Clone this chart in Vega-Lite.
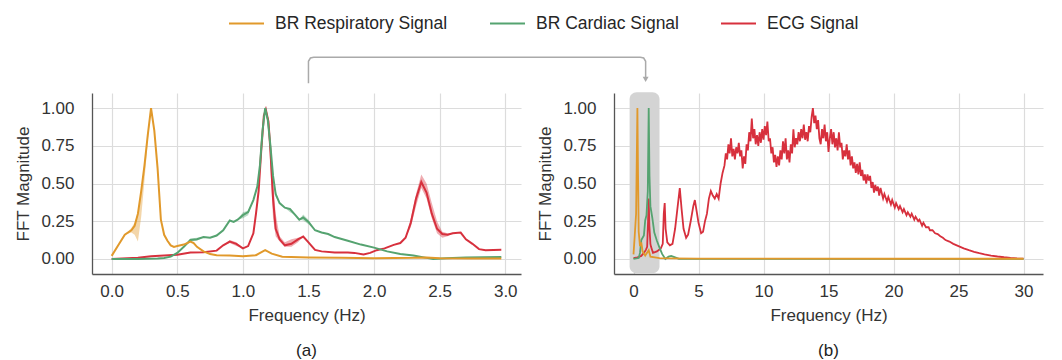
{
  "$schema": "https://vega.github.io/schema/vega-lite/v6.json",
  "padding": {"left": 14, "top": 5, "right": 5, "bottom": 5},
  "bounds": "flush",
  "spacing": 93,
  "config": {
    "view": {"stroke": null},
    "font": "Liberation Sans",
    "axis": {
      "labelFont": "Liberation Sans", "titleFont": "Liberation Sans",
      "titleFontWeight": "normal",
      "labelColor": "#333333", "titleColor": "#333333",
      "gridColor": "#dcdcdc", "gridWidth": 1.2,
      "domainColor": "#555555", "domainWidth": 1.3,
      "ticks": false
    },
    "axisX": {"labelPadding": 9, "titlePadding": 8},
    "axisY": {"labelPadding": 18, "titlePadding": 8},
    "title": {"font": "Liberation Sans", "fontWeight": "normal", "color": "#222222", "orient": "bottom", "offset": 20, "frame": "group", "anchor": "middle"}
  },
  "datasets": {
    "left": [
      {"signal": "ECG Signal", "f": 0.0, "v": 0.0, "lo": 0.0, "hi": 0.0},
      {"signal": "ECG Signal", "f": 0.2, "v": 0.008, "lo": 0.008, "hi": 0.008},
      {"signal": "ECG Signal", "f": 0.3, "v": 0.018, "lo": 0.018, "hi": 0.018},
      {"signal": "ECG Signal", "f": 0.4, "v": 0.022, "lo": 0.022, "hi": 0.022},
      {"signal": "ECG Signal", "f": 0.5, "v": 0.027, "lo": 0.027, "hi": 0.027},
      {"signal": "ECG Signal", "f": 0.6, "v": 0.042, "lo": 0.042, "hi": 0.042},
      {"signal": "ECG Signal", "f": 0.7, "v": 0.045, "lo": 0.045, "hi": 0.045},
      {"signal": "ECG Signal", "f": 0.8, "v": 0.055, "lo": 0.055, "hi": 0.055},
      {"signal": "ECG Signal", "f": 0.85, "v": 0.09, "lo": 0.09, "hi": 0.09},
      {"signal": "ECG Signal", "f": 0.9, "v": 0.115, "lo": 0.105, "hi": 0.125},
      {"signal": "ECG Signal", "f": 0.95, "v": 0.1, "lo": 0.085, "hi": 0.11},
      {"signal": "ECG Signal", "f": 1.0, "v": 0.07, "lo": 0.07, "hi": 0.07},
      {"signal": "ECG Signal", "f": 1.04, "v": 0.085, "lo": 0.085, "hi": 0.085},
      {"signal": "ECG Signal", "f": 1.08, "v": 0.17, "lo": 0.17, "hi": 0.17},
      {"signal": "ECG Signal", "f": 1.1, "v": 0.3, "lo": 0.3, "hi": 0.3},
      {"signal": "ECG Signal", "f": 1.12, "v": 0.45, "lo": 0.45, "hi": 0.45},
      {"signal": "ECG Signal", "f": 1.14, "v": 0.72, "lo": 0.72, "hi": 0.72},
      {"signal": "ECG Signal", "f": 1.16, "v": 0.95, "lo": 0.95, "hi": 0.95},
      {"signal": "ECG Signal", "f": 1.175, "v": 0.99, "lo": 0.97, "hi": 1.0},
      {"signal": "ECG Signal", "f": 1.195, "v": 0.91, "lo": 0.87, "hi": 0.93},
      {"signal": "ECG Signal", "f": 1.21, "v": 0.72, "lo": 0.6, "hi": 0.78},
      {"signal": "ECG Signal", "f": 1.23, "v": 0.4, "lo": 0.27, "hi": 0.52},
      {"signal": "ECG Signal", "f": 1.25, "v": 0.2, "lo": 0.15, "hi": 0.3},
      {"signal": "ECG Signal", "f": 1.28, "v": 0.13, "lo": 0.115, "hi": 0.15},
      {"signal": "ECG Signal", "f": 1.32, "v": 0.09, "lo": 0.08, "hi": 0.11},
      {"signal": "ECG Signal", "f": 1.37, "v": 0.1, "lo": 0.08, "hi": 0.13},
      {"signal": "ECG Signal", "f": 1.42, "v": 0.13, "lo": 0.11, "hi": 0.14},
      {"signal": "ECG Signal", "f": 1.46, "v": 0.148, "lo": 0.148, "hi": 0.148},
      {"signal": "ECG Signal", "f": 1.5, "v": 0.11, "lo": 0.11, "hi": 0.11},
      {"signal": "ECG Signal", "f": 1.55, "v": 0.06, "lo": 0.06, "hi": 0.06},
      {"signal": "ECG Signal", "f": 1.6, "v": 0.05, "lo": 0.05, "hi": 0.05},
      {"signal": "ECG Signal", "f": 1.7, "v": 0.042, "lo": 0.042, "hi": 0.042},
      {"signal": "ECG Signal", "f": 1.8, "v": 0.042, "lo": 0.042, "hi": 0.042},
      {"signal": "ECG Signal", "f": 1.85, "v": 0.04, "lo": 0.04, "hi": 0.04},
      {"signal": "ECG Signal", "f": 1.92, "v": 0.03, "lo": 0.03, "hi": 0.03},
      {"signal": "ECG Signal", "f": 1.97, "v": 0.04, "lo": 0.04, "hi": 0.04},
      {"signal": "ECG Signal", "f": 2.02, "v": 0.058, "lo": 0.058, "hi": 0.058},
      {"signal": "ECG Signal", "f": 2.08, "v": 0.07, "lo": 0.07, "hi": 0.07},
      {"signal": "ECG Signal", "f": 2.15, "v": 0.093, "lo": 0.093, "hi": 0.093},
      {"signal": "ECG Signal", "f": 2.2, "v": 0.105, "lo": 0.105, "hi": 0.105},
      {"signal": "ECG Signal", "f": 2.24, "v": 0.14, "lo": 0.14, "hi": 0.14},
      {"signal": "ECG Signal", "f": 2.28, "v": 0.24, "lo": 0.21, "hi": 0.27},
      {"signal": "ECG Signal", "f": 2.32, "v": 0.4, "lo": 0.35, "hi": 0.43},
      {"signal": "ECG Signal", "f": 2.36, "v": 0.51, "lo": 0.47, "hi": 0.56},
      {"signal": "ECG Signal", "f": 2.4, "v": 0.44, "lo": 0.4, "hi": 0.5},
      {"signal": "ECG Signal", "f": 2.44, "v": 0.3, "lo": 0.27, "hi": 0.37},
      {"signal": "ECG Signal", "f": 2.48, "v": 0.2, "lo": 0.17, "hi": 0.25},
      {"signal": "ECG Signal", "f": 2.52, "v": 0.165, "lo": 0.14, "hi": 0.18},
      {"signal": "ECG Signal", "f": 2.56, "v": 0.16, "lo": 0.15, "hi": 0.17},
      {"signal": "ECG Signal", "f": 2.6, "v": 0.17, "lo": 0.17, "hi": 0.17},
      {"signal": "ECG Signal", "f": 2.66, "v": 0.175, "lo": 0.175, "hi": 0.175},
      {"signal": "ECG Signal", "f": 2.7, "v": 0.13, "lo": 0.13, "hi": 0.13},
      {"signal": "ECG Signal", "f": 2.75, "v": 0.1, "lo": 0.1, "hi": 0.1},
      {"signal": "ECG Signal", "f": 2.8, "v": 0.065, "lo": 0.065, "hi": 0.065},
      {"signal": "ECG Signal", "f": 2.85, "v": 0.058, "lo": 0.058, "hi": 0.058},
      {"signal": "ECG Signal", "f": 2.97, "v": 0.06, "lo": 0.06, "hi": 0.06},

      {"signal": "BR Cardiac Signal", "f": 0.0, "v": 0.0, "lo": 0.0, "hi": 0.0},
      {"signal": "BR Cardiac Signal", "f": 0.2, "v": 0.0, "lo": 0.0, "hi": 0.0},
      {"signal": "BR Cardiac Signal", "f": 0.35, "v": 0.003, "lo": 0.003, "hi": 0.003},
      {"signal": "BR Cardiac Signal", "f": 0.4, "v": 0.006, "lo": 0.006, "hi": 0.006},
      {"signal": "BR Cardiac Signal", "f": 0.45, "v": 0.015, "lo": 0.015, "hi": 0.015},
      {"signal": "BR Cardiac Signal", "f": 0.5, "v": 0.04, "lo": 0.04, "hi": 0.04},
      {"signal": "BR Cardiac Signal", "f": 0.55, "v": 0.08, "lo": 0.08, "hi": 0.08},
      {"signal": "BR Cardiac Signal", "f": 0.6, "v": 0.125, "lo": 0.115, "hi": 0.135},
      {"signal": "BR Cardiac Signal", "f": 0.65, "v": 0.13, "lo": 0.12, "hi": 0.14},
      {"signal": "BR Cardiac Signal", "f": 0.7, "v": 0.145, "lo": 0.145, "hi": 0.145},
      {"signal": "BR Cardiac Signal", "f": 0.75, "v": 0.14, "lo": 0.14, "hi": 0.14},
      {"signal": "BR Cardiac Signal", "f": 0.8, "v": 0.155, "lo": 0.155, "hi": 0.155},
      {"signal": "BR Cardiac Signal", "f": 0.85, "v": 0.19, "lo": 0.19, "hi": 0.19},
      {"signal": "BR Cardiac Signal", "f": 0.9, "v": 0.255, "lo": 0.255, "hi": 0.255},
      {"signal": "BR Cardiac Signal", "f": 0.93, "v": 0.245, "lo": 0.245, "hi": 0.245},
      {"signal": "BR Cardiac Signal", "f": 0.96, "v": 0.26, "lo": 0.26, "hi": 0.26},
      {"signal": "BR Cardiac Signal", "f": 1.0, "v": 0.29, "lo": 0.27, "hi": 0.31},
      {"signal": "BR Cardiac Signal", "f": 1.04, "v": 0.31, "lo": 0.29, "hi": 0.32},
      {"signal": "BR Cardiac Signal", "f": 1.08, "v": 0.39, "lo": 0.39, "hi": 0.39},
      {"signal": "BR Cardiac Signal", "f": 1.11, "v": 0.48, "lo": 0.48, "hi": 0.48},
      {"signal": "BR Cardiac Signal", "f": 1.13, "v": 0.62, "lo": 0.62, "hi": 0.62},
      {"signal": "BR Cardiac Signal", "f": 1.15, "v": 0.85, "lo": 0.85, "hi": 0.85},
      {"signal": "BR Cardiac Signal", "f": 1.17, "v": 1.0, "lo": 1.0, "hi": 1.0},
      {"signal": "BR Cardiac Signal", "f": 1.19, "v": 0.92, "lo": 0.92, "hi": 0.92},
      {"signal": "BR Cardiac Signal", "f": 1.21, "v": 0.75, "lo": 0.75, "hi": 0.75},
      {"signal": "BR Cardiac Signal", "f": 1.23, "v": 0.55, "lo": 0.55, "hi": 0.55},
      {"signal": "BR Cardiac Signal", "f": 1.25, "v": 0.43, "lo": 0.41, "hi": 0.45},
      {"signal": "BR Cardiac Signal", "f": 1.28, "v": 0.37, "lo": 0.37, "hi": 0.37},
      {"signal": "BR Cardiac Signal", "f": 1.32, "v": 0.34, "lo": 0.34, "hi": 0.34},
      {"signal": "BR Cardiac Signal", "f": 1.36, "v": 0.33, "lo": 0.31, "hi": 0.34},
      {"signal": "BR Cardiac Signal", "f": 1.4, "v": 0.29, "lo": 0.29, "hi": 0.29},
      {"signal": "BR Cardiac Signal", "f": 1.43, "v": 0.26, "lo": 0.26, "hi": 0.26},
      {"signal": "BR Cardiac Signal", "f": 1.46, "v": 0.275, "lo": 0.255, "hi": 0.295},
      {"signal": "BR Cardiac Signal", "f": 1.5, "v": 0.245, "lo": 0.23, "hi": 0.26},
      {"signal": "BR Cardiac Signal", "f": 1.55, "v": 0.19, "lo": 0.19, "hi": 0.19},
      {"signal": "BR Cardiac Signal", "f": 1.6, "v": 0.175, "lo": 0.175, "hi": 0.175},
      {"signal": "BR Cardiac Signal", "f": 1.65, "v": 0.165, "lo": 0.165, "hi": 0.165},
      {"signal": "BR Cardiac Signal", "f": 1.7, "v": 0.145, "lo": 0.145, "hi": 0.145},
      {"signal": "BR Cardiac Signal", "f": 1.8, "v": 0.12, "lo": 0.12, "hi": 0.12},
      {"signal": "BR Cardiac Signal", "f": 1.9, "v": 0.095, "lo": 0.095, "hi": 0.095},
      {"signal": "BR Cardiac Signal", "f": 2.0, "v": 0.075, "lo": 0.075, "hi": 0.075},
      {"signal": "BR Cardiac Signal", "f": 2.1, "v": 0.05, "lo": 0.05, "hi": 0.05},
      {"signal": "BR Cardiac Signal", "f": 2.2, "v": 0.033, "lo": 0.033, "hi": 0.033},
      {"signal": "BR Cardiac Signal", "f": 2.3, "v": 0.022, "lo": 0.022, "hi": 0.022},
      {"signal": "BR Cardiac Signal", "f": 2.4, "v": 0.007, "lo": 0.007, "hi": 0.007},
      {"signal": "BR Cardiac Signal", "f": 2.45, "v": 0.0, "lo": 0.0, "hi": 0.0},
      {"signal": "BR Cardiac Signal", "f": 2.55, "v": 0.005, "lo": 0.005, "hi": 0.005},
      {"signal": "BR Cardiac Signal", "f": 2.7, "v": 0.01, "lo": 0.01, "hi": 0.01},
      {"signal": "BR Cardiac Signal", "f": 2.97, "v": 0.012, "lo": 0.012, "hi": 0.012},

      {"signal": "BR Respiratory Signal", "f": 0.0, "v": 0.02, "lo": 0.02, "hi": 0.02},
      {"signal": "BR Respiratory Signal", "f": 0.05, "v": 0.09, "lo": 0.09, "hi": 0.09},
      {"signal": "BR Respiratory Signal", "f": 0.1, "v": 0.16, "lo": 0.16, "hi": 0.16},
      {"signal": "BR Respiratory Signal", "f": 0.15, "v": 0.19, "lo": 0.175, "hi": 0.205},
      {"signal": "BR Respiratory Signal", "f": 0.175, "v": 0.22, "lo": 0.16, "hi": 0.24},
      {"signal": "BR Respiratory Signal", "f": 0.2, "v": 0.3, "lo": 0.115, "hi": 0.31},
      {"signal": "BR Respiratory Signal", "f": 0.225, "v": 0.45, "lo": 0.28, "hi": 0.46},
      {"signal": "BR Respiratory Signal", "f": 0.25, "v": 0.62, "lo": 0.52, "hi": 0.63},
      {"signal": "BR Respiratory Signal", "f": 0.275, "v": 0.82, "lo": 0.78, "hi": 0.83},
      {"signal": "BR Respiratory Signal", "f": 0.3, "v": 1.0, "lo": 1.0, "hi": 1.0},
      {"signal": "BR Respiratory Signal", "f": 0.325, "v": 0.85, "lo": 0.85, "hi": 0.85},
      {"signal": "BR Respiratory Signal", "f": 0.35, "v": 0.6, "lo": 0.6, "hi": 0.6},
      {"signal": "BR Respiratory Signal", "f": 0.375, "v": 0.26, "lo": 0.26, "hi": 0.26},
      {"signal": "BR Respiratory Signal", "f": 0.4, "v": 0.16, "lo": 0.16, "hi": 0.16},
      {"signal": "BR Respiratory Signal", "f": 0.425, "v": 0.12, "lo": 0.12, "hi": 0.12},
      {"signal": "BR Respiratory Signal", "f": 0.45, "v": 0.09, "lo": 0.09, "hi": 0.09},
      {"signal": "BR Respiratory Signal", "f": 0.475, "v": 0.08, "lo": 0.08, "hi": 0.08},
      {"signal": "BR Respiratory Signal", "f": 0.5, "v": 0.085, "lo": 0.085, "hi": 0.085},
      {"signal": "BR Respiratory Signal", "f": 0.55, "v": 0.095, "lo": 0.095, "hi": 0.095},
      {"signal": "BR Respiratory Signal", "f": 0.6, "v": 0.115, "lo": 0.115, "hi": 0.115},
      {"signal": "BR Respiratory Signal", "f": 0.625, "v": 0.105, "lo": 0.105, "hi": 0.105},
      {"signal": "BR Respiratory Signal", "f": 0.65, "v": 0.08, "lo": 0.08, "hi": 0.08},
      {"signal": "BR Respiratory Signal", "f": 0.7, "v": 0.05, "lo": 0.05, "hi": 0.05},
      {"signal": "BR Respiratory Signal", "f": 0.75, "v": 0.032, "lo": 0.032, "hi": 0.032},
      {"signal": "BR Respiratory Signal", "f": 0.8, "v": 0.025, "lo": 0.025, "hi": 0.025},
      {"signal": "BR Respiratory Signal", "f": 0.9, "v": 0.022, "lo": 0.022, "hi": 0.022},
      {"signal": "BR Respiratory Signal", "f": 1.0, "v": 0.018, "lo": 0.018, "hi": 0.018},
      {"signal": "BR Respiratory Signal", "f": 1.1, "v": 0.025, "lo": 0.025, "hi": 0.025},
      {"signal": "BR Respiratory Signal", "f": 1.17, "v": 0.058, "lo": 0.058, "hi": 0.058},
      {"signal": "BR Respiratory Signal", "f": 1.22, "v": 0.035, "lo": 0.035, "hi": 0.035},
      {"signal": "BR Respiratory Signal", "f": 1.3, "v": 0.015, "lo": 0.015, "hi": 0.015},
      {"signal": "BR Respiratory Signal", "f": 1.5, "v": 0.01, "lo": 0.01, "hi": 0.01},
      {"signal": "BR Respiratory Signal", "f": 1.75, "v": 0.007, "lo": 0.007, "hi": 0.007},
      {"signal": "BR Respiratory Signal", "f": 2.0, "v": 0.005, "lo": 0.005, "hi": 0.005},
      {"signal": "BR Respiratory Signal", "f": 2.3, "v": 0.007, "lo": 0.007, "hi": 0.007},
      {"signal": "BR Respiratory Signal", "f": 2.4, "v": 0.01, "lo": 0.01, "hi": 0.01},
      {"signal": "BR Respiratory Signal", "f": 2.5, "v": 0.004, "lo": 0.004, "hi": 0.004},
      {"signal": "BR Respiratory Signal", "f": 2.75, "v": 0.002, "lo": 0.002, "hi": 0.002},
      {"signal": "BR Respiratory Signal", "f": 2.97, "v": 0.002, "lo": 0.002, "hi": 0.002}
    ],
    "right": [
      {"signal": "ECG Signal", "f": 0.0, "v": 0.005},
      {"signal": "ECG Signal", "f": 0.3, "v": 0.01},
      {"signal": "ECG Signal", "f": 0.6, "v": 0.02},
      {"signal": "ECG Signal", "f": 0.8, "v": 0.04},
      {"signal": "ECG Signal", "f": 0.95, "v": 0.06},
      {"signal": "ECG Signal", "f": 1.05, "v": 0.08},
      {"signal": "ECG Signal", "f": 1.12, "v": 0.25},
      {"signal": "ECG Signal", "f": 1.17, "v": 0.4},
      {"signal": "ECG Signal", "f": 1.22, "v": 0.22},
      {"signal": "ECG Signal", "f": 1.3, "v": 0.1},
      {"signal": "ECG Signal", "f": 1.35, "v": 0.08},
      {"signal": "ECG Signal", "f": 1.5, "v": 0.04},
      {"signal": "ECG Signal", "f": 1.8, "v": 0.05},
      {"signal": "ECG Signal", "f": 2.1, "v": 0.07},
      {"signal": "ECG Signal", "f": 2.25, "v": 0.1},
      {"signal": "ECG Signal", "f": 2.33, "v": 0.3},
      {"signal": "ECG Signal", "f": 2.4, "v": 0.37},
      {"signal": "ECG Signal", "f": 2.47, "v": 0.2},
      {"signal": "ECG Signal", "f": 2.6, "v": 0.11},
      {"signal": "ECG Signal", "f": 2.8, "v": 0.09},
      {"signal": "ECG Signal", "f": 3.0, "v": 0.1},
      {"signal": "ECG Signal", "f": 3.2, "v": 0.2},
      {"signal": "ECG Signal", "f": 3.4, "v": 0.35},
      {"signal": "ECG Signal", "f": 3.56, "v": 0.47},
      {"signal": "ECG Signal", "f": 3.7, "v": 0.33},
      {"signal": "ECG Signal", "f": 3.85, "v": 0.2},
      {"signal": "ECG Signal", "f": 4.05, "v": 0.14},
      {"signal": "ECG Signal", "f": 4.2, "v": 0.16},
      {"signal": "ECG Signal", "f": 4.4, "v": 0.25},
      {"signal": "ECG Signal", "f": 4.6, "v": 0.35},
      {"signal": "ECG Signal", "f": 4.72, "v": 0.39},
      {"signal": "ECG Signal", "f": 4.85, "v": 0.32},
      {"signal": "ECG Signal", "f": 5.0, "v": 0.24},
      {"signal": "ECG Signal", "f": 5.2, "v": 0.17},
      {"signal": "ECG Signal", "f": 5.35, "v": 0.18},
      {"signal": "ECG Signal", "f": 5.5, "v": 0.25},
      {"signal": "ECG Signal", "f": 5.65, "v": 0.3},
      {"signal": "ECG Signal", "f": 5.8, "v": 0.4},
      {"signal": "ECG Signal", "f": 5.95, "v": 0.45},
      {"signal": "ECG Signal", "f": 6.1, "v": 0.42},
      {"signal": "ECG Signal", "f": 6.25, "v": 0.4},
      {"signal": "ECG Signal", "f": 6.4, "v": 0.43},
      {"signal": "ECG Signal", "f": 6.55, "v": 0.4},
      {"signal": "ECG Signal", "f": 6.7, "v": 0.5},
      {"signal": "ECG Signal", "f": 6.85, "v": 0.57},
      {"signal": "ECG Signal", "f": 7.0, "v": 0.62},
      {"signal": "ECG Signal", "f": 7.1, "v": 0.7},
      {"signal": "ECG Signal", "f": 7.2, "v": 0.66},
      {"signal": "ECG Signal", "f": 7.3, "v": 0.76},
      {"signal": "ECG Signal", "f": 7.4, "v": 0.7},
      {"signal": "ECG Signal", "f": 7.5, "v": 0.8},
      {"signal": "ECG Signal", "f": 7.6, "v": 0.68},
      {"signal": "ECG Signal", "f": 7.7, "v": 0.73},
      {"signal": "ECG Signal", "f": 7.8, "v": 0.66},
      {"signal": "ECG Signal", "f": 7.9, "v": 0.74},
      {"signal": "ECG Signal", "f": 8.0, "v": 0.7},
      {"signal": "ECG Signal", "f": 8.1, "v": 0.77},
      {"signal": "ECG Signal", "f": 8.2, "v": 0.68},
      {"signal": "ECG Signal", "f": 8.3, "v": 0.72},
      {"signal": "ECG Signal", "f": 8.4, "v": 0.6},
      {"signal": "ECG Signal", "f": 8.5, "v": 0.68},
      {"signal": "ECG Signal", "f": 8.6, "v": 0.63},
      {"signal": "ECG Signal", "f": 8.7, "v": 0.76},
      {"signal": "ECG Signal", "f": 8.8, "v": 0.72},
      {"signal": "ECG Signal", "f": 8.9, "v": 0.84},
      {"signal": "ECG Signal", "f": 9.0, "v": 0.78},
      {"signal": "ECG Signal", "f": 9.1, "v": 0.93},
      {"signal": "ECG Signal", "f": 9.2, "v": 0.8},
      {"signal": "ECG Signal", "f": 9.3, "v": 0.86},
      {"signal": "ECG Signal", "f": 9.4, "v": 0.76},
      {"signal": "ECG Signal", "f": 9.5, "v": 0.82},
      {"signal": "ECG Signal", "f": 9.6, "v": 0.75},
      {"signal": "ECG Signal", "f": 9.7, "v": 0.84},
      {"signal": "ECG Signal", "f": 9.8, "v": 0.77},
      {"signal": "ECG Signal", "f": 9.9, "v": 0.86},
      {"signal": "ECG Signal", "f": 10.0, "v": 0.79},
      {"signal": "ECG Signal", "f": 10.1, "v": 0.88},
      {"signal": "ECG Signal", "f": 10.2, "v": 0.82},
      {"signal": "ECG Signal", "f": 10.3, "v": 0.91},
      {"signal": "ECG Signal", "f": 10.4, "v": 0.78},
      {"signal": "ECG Signal", "f": 10.5, "v": 0.8},
      {"signal": "ECG Signal", "f": 10.6, "v": 0.7},
      {"signal": "ECG Signal", "f": 10.7, "v": 0.74},
      {"signal": "ECG Signal", "f": 10.8, "v": 0.64},
      {"signal": "ECG Signal", "f": 10.9, "v": 0.69},
      {"signal": "ECG Signal", "f": 11.0, "v": 0.61},
      {"signal": "ECG Signal", "f": 11.1, "v": 0.68},
      {"signal": "ECG Signal", "f": 11.2, "v": 0.62},
      {"signal": "ECG Signal", "f": 11.3, "v": 0.72},
      {"signal": "ECG Signal", "f": 11.4, "v": 0.66},
      {"signal": "ECG Signal", "f": 11.5, "v": 0.78},
      {"signal": "ECG Signal", "f": 11.6, "v": 0.7},
      {"signal": "ECG Signal", "f": 11.7, "v": 0.8},
      {"signal": "ECG Signal", "f": 11.8, "v": 0.66},
      {"signal": "ECG Signal", "f": 11.9, "v": 0.72},
      {"signal": "ECG Signal", "f": 12.0, "v": 0.64},
      {"signal": "ECG Signal", "f": 12.1, "v": 0.76},
      {"signal": "ECG Signal", "f": 12.2, "v": 0.7},
      {"signal": "ECG Signal", "f": 12.3, "v": 0.86},
      {"signal": "ECG Signal", "f": 12.4, "v": 0.74},
      {"signal": "ECG Signal", "f": 12.5, "v": 0.8},
      {"signal": "ECG Signal", "f": 12.6, "v": 0.76},
      {"signal": "ECG Signal", "f": 12.7, "v": 0.84},
      {"signal": "ECG Signal", "f": 12.8, "v": 0.78},
      {"signal": "ECG Signal", "f": 12.9, "v": 0.86},
      {"signal": "ECG Signal", "f": 13.0, "v": 0.8},
      {"signal": "ECG Signal", "f": 13.1, "v": 0.89},
      {"signal": "ECG Signal", "f": 13.2, "v": 0.79},
      {"signal": "ECG Signal", "f": 13.3, "v": 0.84},
      {"signal": "ECG Signal", "f": 13.4, "v": 0.78},
      {"signal": "ECG Signal", "f": 13.5, "v": 0.88},
      {"signal": "ECG Signal", "f": 13.6, "v": 0.84},
      {"signal": "ECG Signal", "f": 13.7, "v": 0.94},
      {"signal": "ECG Signal", "f": 13.8, "v": 1.0},
      {"signal": "ECG Signal", "f": 13.9, "v": 0.9},
      {"signal": "ECG Signal", "f": 14.0, "v": 0.95},
      {"signal": "ECG Signal", "f": 14.1, "v": 0.86},
      {"signal": "ECG Signal", "f": 14.2, "v": 0.92},
      {"signal": "ECG Signal", "f": 14.3, "v": 0.8},
      {"signal": "ECG Signal", "f": 14.4, "v": 0.76},
      {"signal": "ECG Signal", "f": 14.5, "v": 0.86},
      {"signal": "ECG Signal", "f": 14.6, "v": 0.8},
      {"signal": "ECG Signal", "f": 14.7, "v": 0.89},
      {"signal": "ECG Signal", "f": 14.8, "v": 0.78},
      {"signal": "ECG Signal", "f": 14.9, "v": 0.84},
      {"signal": "ECG Signal", "f": 15.0, "v": 0.71},
      {"signal": "ECG Signal", "f": 15.1, "v": 0.8},
      {"signal": "ECG Signal", "f": 15.2, "v": 0.86},
      {"signal": "ECG Signal", "f": 15.3, "v": 0.76},
      {"signal": "ECG Signal", "f": 15.4, "v": 0.84},
      {"signal": "ECG Signal", "f": 15.5, "v": 0.74},
      {"signal": "ECG Signal", "f": 15.6, "v": 0.8},
      {"signal": "ECG Signal", "f": 15.7, "v": 0.72},
      {"signal": "ECG Signal", "f": 15.8, "v": 0.84},
      {"signal": "ECG Signal", "f": 15.9, "v": 0.74},
      {"signal": "ECG Signal", "f": 16.0, "v": 0.77},
      {"signal": "ECG Signal", "f": 16.1, "v": 0.66},
      {"signal": "ECG Signal", "f": 16.2, "v": 0.72},
      {"signal": "ECG Signal", "f": 16.3, "v": 0.68},
      {"signal": "ECG Signal", "f": 16.4, "v": 0.76},
      {"signal": "ECG Signal", "f": 16.5, "v": 0.66},
      {"signal": "ECG Signal", "f": 16.6, "v": 0.72},
      {"signal": "ECG Signal", "f": 16.7, "v": 0.62},
      {"signal": "ECG Signal", "f": 16.8, "v": 0.68},
      {"signal": "ECG Signal", "f": 16.9, "v": 0.6},
      {"signal": "ECG Signal", "f": 17.0, "v": 0.64},
      {"signal": "ECG Signal", "f": 17.1, "v": 0.57},
      {"signal": "ECG Signal", "f": 17.2, "v": 0.63},
      {"signal": "ECG Signal", "f": 17.3, "v": 0.56},
      {"signal": "ECG Signal", "f": 17.4, "v": 0.64},
      {"signal": "ECG Signal", "f": 17.5, "v": 0.55},
      {"signal": "ECG Signal", "f": 17.6, "v": 0.59},
      {"signal": "ECG Signal", "f": 17.7, "v": 0.52},
      {"signal": "ECG Signal", "f": 17.8, "v": 0.56},
      {"signal": "ECG Signal", "f": 17.9, "v": 0.5},
      {"signal": "ECG Signal", "f": 18.0, "v": 0.56},
      {"signal": "ECG Signal", "f": 18.1, "v": 0.52},
      {"signal": "ECG Signal", "f": 18.2, "v": 0.55},
      {"signal": "ECG Signal", "f": 18.3, "v": 0.47},
      {"signal": "ECG Signal", "f": 18.4, "v": 0.51},
      {"signal": "ECG Signal", "f": 18.5, "v": 0.44},
      {"signal": "ECG Signal", "f": 18.6, "v": 0.49},
      {"signal": "ECG Signal", "f": 18.7, "v": 0.45},
      {"signal": "ECG Signal", "f": 18.8, "v": 0.48},
      {"signal": "ECG Signal", "f": 18.9, "v": 0.42},
      {"signal": "ECG Signal", "f": 19.0, "v": 0.47},
      {"signal": "ECG Signal", "f": 19.2, "v": 0.4},
      {"signal": "ECG Signal", "f": 19.3, "v": 0.43},
      {"signal": "ECG Signal", "f": 19.5, "v": 0.38},
      {"signal": "ECG Signal", "f": 19.6, "v": 0.41},
      {"signal": "ECG Signal", "f": 19.8, "v": 0.36},
      {"signal": "ECG Signal", "f": 19.9, "v": 0.39},
      {"signal": "ECG Signal", "f": 20.1, "v": 0.34},
      {"signal": "ECG Signal", "f": 20.2, "v": 0.37},
      {"signal": "ECG Signal", "f": 20.4, "v": 0.33},
      {"signal": "ECG Signal", "f": 20.5, "v": 0.35},
      {"signal": "ECG Signal", "f": 20.7, "v": 0.31},
      {"signal": "ECG Signal", "f": 20.8, "v": 0.33},
      {"signal": "ECG Signal", "f": 21.0, "v": 0.29},
      {"signal": "ECG Signal", "f": 21.1, "v": 0.31},
      {"signal": "ECG Signal", "f": 21.3, "v": 0.28},
      {"signal": "ECG Signal", "f": 21.4, "v": 0.3},
      {"signal": "ECG Signal", "f": 21.6, "v": 0.26},
      {"signal": "ECG Signal", "f": 21.7, "v": 0.28},
      {"signal": "ECG Signal", "f": 21.9, "v": 0.25},
      {"signal": "ECG Signal", "f": 22.0, "v": 0.26},
      {"signal": "ECG Signal", "f": 22.2, "v": 0.22},
      {"signal": "ECG Signal", "f": 22.3, "v": 0.24},
      {"signal": "ECG Signal", "f": 22.5, "v": 0.21},
      {"signal": "ECG Signal", "f": 22.7, "v": 0.21},
      {"signal": "ECG Signal", "f": 22.8, "v": 0.19},
      {"signal": "ECG Signal", "f": 23.0, "v": 0.19},
      {"signal": "ECG Signal", "f": 23.2, "v": 0.17},
      {"signal": "ECG Signal", "f": 23.4, "v": 0.165},
      {"signal": "ECG Signal", "f": 23.6, "v": 0.15},
      {"signal": "ECG Signal", "f": 23.8, "v": 0.14},
      {"signal": "ECG Signal", "f": 24.0, "v": 0.125},
      {"signal": "ECG Signal", "f": 24.3, "v": 0.115},
      {"signal": "ECG Signal", "f": 24.6, "v": 0.1},
      {"signal": "ECG Signal", "f": 25.0, "v": 0.085},
      {"signal": "ECG Signal", "f": 25.4, "v": 0.07},
      {"signal": "ECG Signal", "f": 25.8, "v": 0.058},
      {"signal": "ECG Signal", "f": 26.2, "v": 0.047},
      {"signal": "ECG Signal", "f": 26.6, "v": 0.038},
      {"signal": "ECG Signal", "f": 27.0, "v": 0.03},
      {"signal": "ECG Signal", "f": 27.5, "v": 0.022},
      {"signal": "ECG Signal", "f": 28.0, "v": 0.016},
      {"signal": "ECG Signal", "f": 28.5, "v": 0.011},
      {"signal": "ECG Signal", "f": 29.0, "v": 0.007},
      {"signal": "ECG Signal", "f": 29.5, "v": 0.004},
      {"signal": "ECG Signal", "f": 30.0, "v": 0.002},

      {"signal": "BR Cardiac Signal", "f": 0.0, "v": 0.0},
      {"signal": "BR Cardiac Signal", "f": 0.4, "v": 0.006},
      {"signal": "BR Cardiac Signal", "f": 0.5, "v": 0.04},
      {"signal": "BR Cardiac Signal", "f": 0.6, "v": 0.125},
      {"signal": "BR Cardiac Signal", "f": 0.8, "v": 0.155},
      {"signal": "BR Cardiac Signal", "f": 0.9, "v": 0.255},
      {"signal": "BR Cardiac Signal", "f": 1.0, "v": 0.29},
      {"signal": "BR Cardiac Signal", "f": 1.1, "v": 0.45},
      {"signal": "BR Cardiac Signal", "f": 1.17, "v": 1.0},
      {"signal": "BR Cardiac Signal", "f": 1.23, "v": 0.55},
      {"signal": "BR Cardiac Signal", "f": 1.3, "v": 0.35},
      {"signal": "BR Cardiac Signal", "f": 1.45, "v": 0.27},
      {"signal": "BR Cardiac Signal", "f": 1.6, "v": 0.175},
      {"signal": "BR Cardiac Signal", "f": 1.8, "v": 0.12},
      {"signal": "BR Cardiac Signal", "f": 2.0, "v": 0.075},
      {"signal": "BR Cardiac Signal", "f": 2.2, "v": 0.033},
      {"signal": "BR Cardiac Signal", "f": 2.45, "v": 0.0},
      {"signal": "BR Cardiac Signal", "f": 2.7, "v": 0.015},
      {"signal": "BR Cardiac Signal", "f": 2.9, "v": 0.02},
      {"signal": "BR Cardiac Signal", "f": 3.2, "v": 0.01},
      {"signal": "BR Cardiac Signal", "f": 3.5, "v": 0.0},
      {"signal": "BR Cardiac Signal", "f": 30.0, "v": 0.0},

      {"signal": "BR Respiratory Signal", "f": 0.0, "v": 0.03},
      {"signal": "BR Respiratory Signal", "f": 0.1, "v": 0.16},
      {"signal": "BR Respiratory Signal", "f": 0.2, "v": 0.3},
      {"signal": "BR Respiratory Signal", "f": 0.3, "v": 1.0},
      {"signal": "BR Respiratory Signal", "f": 0.35, "v": 0.55},
      {"signal": "BR Respiratory Signal", "f": 0.4, "v": 0.18},
      {"signal": "BR Respiratory Signal", "f": 0.5, "v": 0.085},
      {"signal": "BR Respiratory Signal", "f": 0.6, "v": 0.11},
      {"signal": "BR Respiratory Signal", "f": 0.7, "v": 0.05},
      {"signal": "BR Respiratory Signal", "f": 0.9, "v": 0.022},
      {"signal": "BR Respiratory Signal", "f": 1.17, "v": 0.058},
      {"signal": "BR Respiratory Signal", "f": 1.3, "v": 0.015},
      {"signal": "BR Respiratory Signal", "f": 2.0, "v": 0.005},
      {"signal": "BR Respiratory Signal", "f": 3.0, "v": 0.003},
      {"signal": "BR Respiratory Signal", "f": 5.0, "v": 0.002},
      {"signal": "BR Respiratory Signal", "f": 10.0, "v": 0.002},
      {"signal": "BR Respiratory Signal", "f": 20.0, "v": 0.001},
      {"signal": "BR Respiratory Signal", "f": 30.0, "v": 0.001}
    ],
    "arrow": [
      {"step": 1, "f": 1.5, "v": 1.165},
      {"step": 2, "f": 1.5, "v": 1.31},
      {"step": 3, "f": 1.515, "v": 1.332},
      {"step": 4, "f": 1.54, "v": 1.337},
      {"step": 5, "f": 4.03, "v": 1.337},
      {"step": 6, "f": 4.055, "v": 1.332},
      {"step": 7, "f": 4.07, "v": 1.31},
      {"step": 8, "f": 4.07, "v": 1.2}
    ],
    "arrowhead": [
      {"f": 4.07, "v": 1.19}
    ],
    "box": [
      {"x1": -0.3, "x2": 2.0, "y1": -0.095, "y2": 1.105}
    ]
  },
  "hconcat": [
    {
      "width": 429,
      "height": 181,
      "title": {"text": "(a)", "fontSize": 17},
      "encoding": {
        "x": {
          "field": "f", "type": "quantitative",
          "scale": {"domain": [-0.15, 3.12], "nice": false, "zero": false},
          "axis": {"title": "Frequency (Hz)", "values": [0, 0.5, 1, 1.5, 2, 2.5, 3], "format": ".1f", "labelFontSize": 17, "titleFontSize": 17}
        }
      },
      "layer": [
        {
          "data": {"name": "left"},
          "mark": {"type": "area", "opacity": 0.4},
          "encoding": {
            "y": {"field": "lo", "type": "quantitative", "stack": null,
                  "scale": {"domain": [-0.1, 1.1], "nice": false, "zero": false},
                  "axis": {"title": "FFT Magnitude", "values": [0, 0.25, 0.5, 0.75, 1], "format": ".2f", "labelFontSize": 17, "titleFontSize": 17}},
            "y2": {"field": "hi"},
            "fill": {"field": "signal", "type": "nominal",
                     "scale": {"domain": ["ECG Signal", "BR Cardiac Signal", "BR Respiratory Signal"], "range": ["#D7303D", "#55A370", "#E1992B"]},
                     "legend": null}
          }
        },
        {
          "data": {"name": "left"},
          "mark": {"type": "line", "strokeWidth": 2},
          "encoding": {
            "y": {"field": "v", "type": "quantitative",
                  "scale": {"domain": [-0.1, 1.1], "nice": false, "zero": false},
                  "axis": {"title": "FFT Magnitude", "values": [0, 0.25, 0.5, 0.75, 1], "format": ".2f", "labelFontSize": 17, "titleFontSize": 17}},
            "color": {"field": "signal", "type": "nominal",
                      "scale": {"domain": ["BR Respiratory Signal", "BR Cardiac Signal", "ECG Signal"], "range": ["#E1992B", "#55A370", "#D7303D"]},
                      "legend": {"title": null, "orient": "none", "legendX": 136, "legendY": -88, "direction": "horizontal",
                                 "symbolType": "stroke", "symbolSize": 1225, "symbolStrokeWidth": 2,
                                 "labelFont": "Liberation Sans", "labelFontSize": 17.5, "labelColor": "#262626", "labelLimit": 400,
                                 "labelOffset": 10, "columnPadding": 38, "padding": 0}}
          }
        },
        {
          "data": {"name": "arrow"},
          "mark": {"type": "line", "color": "#aaaaaa", "strokeWidth": 1.5},
          "encoding": {
            "y": {"field": "v", "type": "quantitative"},
            "order": {"field": "step", "type": "quantitative"}
          }
        },
        {
          "data": {"name": "arrowhead"},
          "mark": {"type": "point", "shape": "triangle-down", "filled": true, "color": "#aaaaaa", "size": 35, "opacity": 1},
          "encoding": {
            "y": {"field": "v", "type": "quantitative"}
          }
        }
      ]
    },
    {
      "width": 429,
      "height": 181,
      "title": {"text": "(b)", "fontSize": 17},
      "layer": [
        {
          "data": {"name": "box"},
          "mark": {"type": "rect", "color": "#d4d4d4", "cornerRadius": 7, "opacity": 1},
          "encoding": {
            "x": {"field": "x1", "type": "quantitative",
                  "scale": {"domain": [-1.5, 31.5], "nice": false, "zero": false},
                  "axis": {"title": "Frequency (Hz)", "values": [0, 5, 10, 15, 20, 25, 30], "format": "d", "labelFontSize": 17, "titleFontSize": 17}},
            "x2": {"field": "x2"},
            "y": {"field": "y1", "type": "quantitative",
                  "scale": {"domain": [-0.1, 1.1], "nice": false, "zero": false},
                  "axis": {"title": "FFT Magnitude", "values": [0, 0.25, 0.5, 0.75, 1], "format": ".2f", "labelFontSize": 17, "titleFontSize": 17}},
            "y2": {"field": "y2"}
          }
        },
        {
          "data": {"name": "right"},
          "mark": {"type": "line", "strokeWidth": 1.8},
          "encoding": {
            "x": {"field": "f", "type": "quantitative",
                  "scale": {"domain": [-1.5, 31.5], "nice": false, "zero": false},
                  "axis": {"title": "Frequency (Hz)", "values": [0, 5, 10, 15, 20, 25, 30], "format": "d", "labelFontSize": 17, "titleFontSize": 17}},
            "y": {"field": "v", "type": "quantitative",
                  "scale": {"domain": [-0.1, 1.1], "nice": false, "zero": false},
                  "axis": {"title": "FFT Magnitude", "values": [0, 0.25, 0.5, 0.75, 1], "format": ".2f", "labelFontSize": 17, "titleFontSize": 17}},
            "color": {"field": "signal", "type": "nominal",
                      "scale": {"domain": ["BR Respiratory Signal", "BR Cardiac Signal", "ECG Signal"], "range": ["#E1992B", "#55A370", "#D7303D"]},
                      "legend": {"title": null, "orient": "none", "legendX": 136, "legendY": -88, "direction": "horizontal",
                                 "symbolType": "stroke", "symbolSize": 1225, "symbolStrokeWidth": 2,
                                 "labelFont": "Liberation Sans", "labelFontSize": 17.5, "labelColor": "#262626", "labelLimit": 400,
                                 "labelOffset": 10, "columnPadding": 38, "padding": 0}}
          }
        }
      ]
    }
  ]
}
